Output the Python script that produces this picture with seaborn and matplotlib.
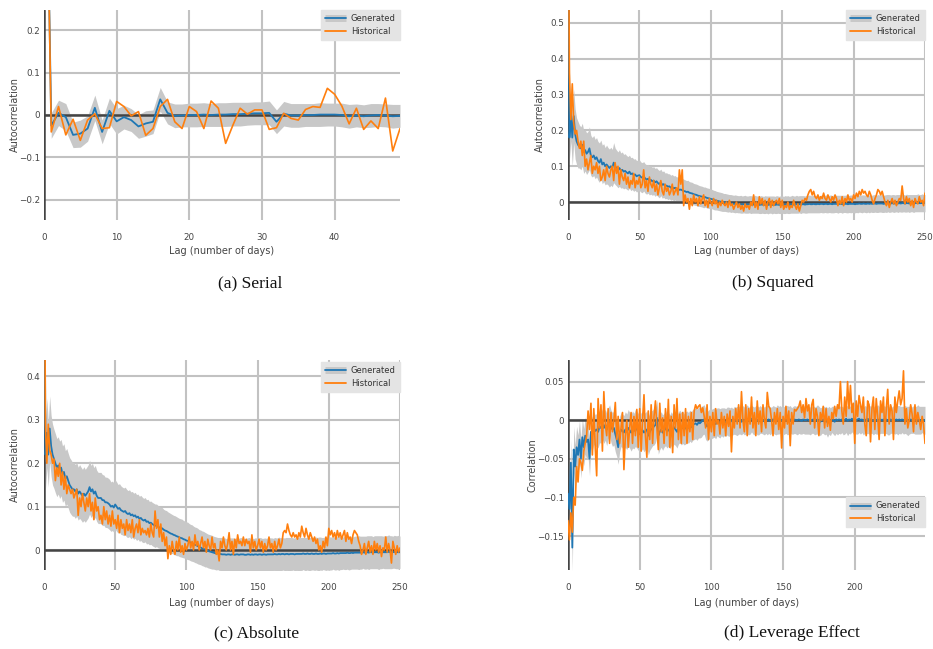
import numpy as np
import pandas as pd
import matplotlib
matplotlib.use("Agg")
import matplotlib.pyplot as plt
import seaborn as sns
from matplotlib.lines import Line2D

# ---------------- data ----------------
SERIAL_HIST = [1.0, -0.04, 0.02, -0.047, -0.01, -0.06, -0.012, 0.003, -0.032, -0.03,
               0.032, 0.02, -0.002, 0.008, -0.048, -0.032, 0.02, 0.037, -0.016, -0.032,
               0.02, 0.008, -0.032, 0.033, 0.016, -0.067, -0.024, 0.016, 0.002, 0.012,
               0.012, -0.034, -0.03, 0.004, -0.008, -0.012, 0.013, 0.02, 0.018, 0.063,
               0.049, 0.021, -0.021, 0.016, -0.034, -0.014, -0.032, 0.04, -0.085, -0.032]
SERIAL_GEN = [1.0, -0.025, 0.005, -0.005, -0.047, -0.044, -0.032, 0.017, -0.04, 0.01,
              -0.015, -0.005, -0.012, -0.027, -0.02, -0.016, 0.037, 0.005, -0.002, -0.001,
              0.0, 0.0, 0.001, 0.0, 0.001, 0.001, 0.002, 0.002, 0.003, 0.004,
              0.004, 0.005, -0.016, 0.003, -0.001, -0.001, 0.0, 0.0, 0.001, 0.001,
              0.001, 0.0, -0.003, -0.001, -0.003, -0.001, 0.0, -0.001, -0.003, -0.002]
SERIAL_BAND = [0.0, 0.03, 0.03, 0.032, 0.03, 0.032, 0.03, 0.03, 0.028, 0.03,
               0.03, 0.028, 0.027, 0.028, 0.03, 0.028, 0.028, 0.026, 0.028, 0.027,
               0.028, 0.028, 0.028, 0.027, 0.028, 0.028, 0.028, 0.028, 0.027, 0.027,
               0.027, 0.028, 0.028, 0.029, 0.028, 0.028, 0.027, 0.027, 0.028, 0.027,
               0.027, 0.028, 0.028, 0.027, 0.027, 0.028, 0.027, 0.027, 0.028, 0.027]

SQ_HIST = [1.0, 0.36, 0.23, 0.33, 0.22, 0.19, 0.20, 0.17, 0.15, 0.17,
           0.13, 0.17, 0.10, 0.12, 0.09, 0.11, 0.13, 0.08, 0.10, 0.09,
           0.11, 0.08, 0.10, 0.06, 0.07, 0.09, 0.06, 0.10, 0.08, 0.07,
           0.09, 0.10, 0.06, 0.11, 0.08, 0.10, 0.05, 0.09, 0.07, 0.06,
           0.08, 0.05, 0.07, 0.04, 0.06, 0.05, 0.08, 0.04, 0.06, 0.05,
           0.07, 0.04, 0.05, 0.09, 0.04, 0.06, 0.03, 0.07, 0.05, 0.04,
           0.06, 0.03, 0.05, 0.02, 0.04, 0.06, 0.03, 0.02, 0.05, 0.03,
           0.04, 0.02, 0.03, 0.05, 0.02, 0.03, 0.04, 0.02, 0.09, 0.05,
           0.09, -0.01, 0.02, 0.00, 0.01, -0.02, 0.01, -0.01, 0.02, 0.00,
           0.01, -0.01, 0.015, -0.005, 0.01, 0.02, -0.01, 0.005, -0.015, 0.01,
           0.0, -0.01, 0.01, -0.005, 0.005, -0.015, 0.0, -0.01, 0.005, -0.005,
           -0.01, 0.0, -0.015, 0.005, -0.01, -0.005, -0.02, -0.01, 0.0, -0.015,
           -0.005, -0.02, -0.01, -0.025, -0.005, -0.015, -0.01, -0.02, 0.0, -0.01,
           0.02, -0.015, 0.0, -0.02, 0.015, -0.005, 0.01, -0.01, 0.005, -0.02,
           0.0, 0.01, -0.015, 0.005, -0.01, 0.0, 0.005, -0.005, 0.01, -0.015,
           0.005, -0.02, -0.01, -0.015, 0.0, -0.02, -0.01, -0.015, 0.005, -0.01,
           -0.02, -0.005, -0.025, -0.01, 0.005, 0.0, 0.01, 0.005, 0.02, 0.03,
           0.035, 0.02, 0.03, 0.015, 0.01, 0.02, 0.005, 0.015, 0.01, 0.025,
           0.01, 0.005, 0.02, 0.01, 0.0, 0.015, 0.005, 0.02, 0.01, -0.01,
           0.005, -0.005, 0.015, -0.01, 0.01, 0.0, 0.02, 0.005, 0.01, 0.0,
           0.02, 0.01, 0.025, 0.015, 0.03, 0.02, 0.035, 0.025, 0.03, 0.02,
           0.015, 0.03, 0.02, 0.005, -0.005, 0.01, 0.02, 0.035, 0.03, 0.02,
           0.03, 0.015, 0.0, -0.01, 0.005, -0.015, 0.0, 0.01, -0.005, 0.005,
           -0.01, 0.0, 0.01, 0.005, 0.045, 0.01, -0.005, 0.015, 0.0, 0.01,
           -0.01, 0.005, -0.015, 0.01, 0.0, -0.005, 0.015, 0.0, 0.005, -0.01,
           0.025]
SQ_GEN = [1.0, 0.18, 0.25, 0.18, 0.24, 0.19, 0.17, 0.16, 0.155, 0.15,
          0.16, 0.14, 0.145, 0.135, 0.14, 0.15, 0.13, 0.125, 0.13, 0.12,
          0.125, 0.115, 0.11, 0.12, 0.105, 0.11, 0.1, 0.105, 0.1, 0.095,
          0.1, 0.095, 0.11, 0.1, 0.095, 0.09, 0.095, 0.088, 0.09, 0.085,
          0.087, 0.083, 0.08, 0.085, 0.078, 0.08, 0.075, 0.077, 0.072, 0.074,
          0.075, 0.07, 0.068, 0.072, 0.066, 0.063, 0.065, 0.06, 0.062, 0.058,
          0.06, 0.055, 0.058, 0.053, 0.05, 0.055, 0.048, 0.05, 0.045, 0.046,
          0.043, 0.044, 0.04, 0.042, 0.038, 0.04, 0.036, 0.037, 0.034, 0.035,
          0.033, 0.031, 0.03, 0.028, 0.029, 0.026, 0.025, 0.024, 0.022, 0.021,
          0.02, 0.018, 0.017, 0.016, 0.015, 0.013, 0.014, 0.012, 0.011, 0.01,
          0.009, 0.008, 0.006, 0.005, 0.004, 0.003, 0.002, 0.001, 0.0, -0.001,
          -0.001, -0.002, -0.003, -0.003, -0.004, -0.004, -0.005, -0.005, -0.005, -0.006,
          -0.006, -0.006, -0.007, -0.006, -0.006, -0.007, -0.007, -0.006, -0.007, -0.007,
          -0.007, -0.006, -0.007, -0.007, -0.008, -0.007, -0.007, -0.008, -0.007, -0.007,
          -0.008, -0.007, -0.007, -0.008, -0.007, -0.008, -0.007, -0.007, -0.008, -0.007,
          -0.007, -0.008, -0.007, -0.007, -0.007, -0.008, -0.007, -0.006, -0.007, -0.007,
          -0.006, -0.007, -0.006, -0.007, -0.006, -0.006, -0.007, -0.006, -0.006, -0.005,
          -0.006, -0.006, -0.005, -0.006, -0.006, -0.005, -0.006, -0.005, -0.005, -0.006,
          -0.005, -0.005, -0.006, -0.005, -0.005, -0.006, -0.005, -0.005, -0.005, -0.006,
          -0.005, -0.005, -0.006, -0.005, -0.005, -0.005, -0.006, -0.005, -0.005, -0.005,
          -0.005, -0.006, -0.005, -0.005, -0.004, -0.005, -0.005, -0.004, -0.005, -0.005,
          -0.004, -0.005, -0.004, -0.005, -0.004, -0.004, -0.005, -0.004, -0.004, -0.004,
          -0.004, -0.005, -0.004, -0.004, -0.003, -0.004, -0.004, -0.003, -0.004, -0.004,
          -0.003, -0.004, -0.003, -0.004, -0.003, -0.003, -0.004, -0.003, -0.003, -0.004,
          -0.003, -0.003, -0.004, -0.003, -0.003, -0.002, -0.003, -0.003, -0.002, -0.003,
          -0.003]
SQ_BAND = [0.0, 0.06, 0.08, 0.08, 0.075, 0.07, 0.065, 0.065, 0.06, 0.06,
           0.06, 0.06, 0.058, 0.058, 0.057, 0.06, 0.056, 0.055, 0.056, 0.055,
           0.055, 0.054, 0.055, 0.053, 0.054, 0.053, 0.052, 0.054, 0.052, 0.053,
           0.053, 0.052, 0.056, 0.051, 0.05, 0.05, 0.051, 0.049, 0.05, 0.048,
           0.048, 0.047, 0.047, 0.046, 0.046, 0.045, 0.045, 0.044, 0.044, 0.043,
           0.043, 0.042, 0.042, 0.041, 0.041, 0.041, 0.04, 0.04, 0.04, 0.039,
           0.039, 0.039, 0.038, 0.038, 0.038, 0.037, 0.037, 0.037, 0.036, 0.036,
           0.036, 0.035, 0.035, 0.035, 0.035, 0.034, 0.034, 0.034, 0.034, 0.033,
           0.033, 0.033, 0.032, 0.032, 0.032, 0.031, 0.031, 0.031, 0.03, 0.03,
           0.03, 0.03, 0.029, 0.029, 0.029, 0.029, 0.028, 0.028, 0.028, 0.028,
           0.027, 0.027, 0.027, 0.027, 0.026, 0.026, 0.026, 0.026, 0.026, 0.025,
           0.025, 0.025, 0.025, 0.024, 0.025, 0.024, 0.024, 0.025, 0.024, 0.024,
           0.024, 0.025, 0.024, 0.024, 0.025, 0.024, 0.024, 0.024, 0.025, 0.024,
           0.024, 0.025, 0.024, 0.024, 0.024, 0.025, 0.024, 0.024, 0.025, 0.024,
           0.025, 0.024, 0.024, 0.025, 0.024, 0.024, 0.025, 0.024, 0.024, 0.025,
           0.024, 0.024, 0.025, 0.024, 0.025, 0.024, 0.024, 0.025, 0.024, 0.024,
           0.025, 0.024, 0.024, 0.025, 0.024, 0.024, 0.024, 0.025, 0.024, 0.025,
           0.024, 0.024, 0.025, 0.024, 0.024, 0.025, 0.024, 0.024, 0.025, 0.024,
           0.024, 0.025, 0.024, 0.024, 0.025, 0.024, 0.025, 0.024, 0.024, 0.025,
           0.024, 0.024, 0.025, 0.024, 0.024, 0.025, 0.024, 0.024, 0.025, 0.024,
           0.025, 0.024, 0.024, 0.025, 0.024, 0.024, 0.025, 0.024, 0.024, 0.025,
           0.024, 0.025, 0.024, 0.024, 0.025, 0.024, 0.024, 0.025, 0.024, 0.024,
           0.025, 0.024, 0.024, 0.025, 0.024, 0.025, 0.024, 0.024, 0.025, 0.024,
           0.024, 0.025, 0.024, 0.024, 0.025, 0.024, 0.024, 0.025, 0.024, 0.025,
           0.024, 0.024, 0.025, 0.024, 0.024, 0.025, 0.024, 0.024, 0.025, 0.024,
           0.024]

ABS_HIST = [1.0, 0.29, 0.20, 0.29, 0.23, 0.22, 0.20, 0.21, 0.16, 0.19,
            0.17, 0.20, 0.15, 0.18, 0.14, 0.17, 0.13, 0.15, 0.14, 0.13,
            0.14, 0.12, 0.13, 0.14, 0.08, 0.12, 0.10, 0.13, 0.11, 0.09,
            0.12, 0.10, 0.13, 0.09, 0.11, 0.07, 0.12, 0.09, 0.10, 0.07,
            0.08, 0.06, 0.10, 0.07, 0.09, 0.06, 0.08, 0.055, 0.09, 0.06,
            0.07, 0.05, 0.08, 0.04, 0.07, 0.05, 0.06, 0.035, 0.07, 0.045,
            0.06, 0.04, 0.07, 0.03, 0.05, 0.06, 0.04, 0.07, 0.035, 0.05,
            0.04, 0.045, 0.035, 0.05, 0.03, 0.06, 0.04, 0.03, 0.09, 0.05,
            0.07, 0.03, 0.06, 0.02, 0.04, 0.01, 0.03, -0.02, 0.01, -0.01,
            0.02, 0.0, -0.01, 0.02, 0.0, 0.03, -0.005, 0.01, -0.01, 0.015,
            0.0, 0.01, 0.03, 0.005, 0.02, 0.0, 0.035, 0.01, 0.02, 0.0,
            0.015, 0.03, 0.005, 0.02, -0.005, 0.025, 0.01, 0.0, 0.03, 0.005,
            0.015, -0.01, 0.0, -0.025, 0.02, 0.005, 0.03, 0.01, 0.0, 0.015,
            0.04, 0.0, 0.02, -0.01, 0.025, 0.005, 0.035, 0.015, 0.02, 0.01,
            0.03, 0.01, 0.025, 0.015, 0.02, -0.005, 0.035, 0.005, 0.02, 0.0,
            0.01, 0.025, 0.005, 0.02, -0.005, 0.015, 0.0, 0.01, 0.03, 0.005,
            0.015, -0.005, 0.02, 0.0, 0.01, 0.025, 0.005, 0.015, 0.04, 0.045,
            0.04, 0.06, 0.045, 0.035, 0.03, 0.04, 0.03, 0.035, 0.025, 0.04,
            0.03, 0.055, 0.04, 0.03, 0.05, 0.035, 0.025, 0.04, 0.03, 0.02,
            0.03, 0.015, 0.025, 0.0, 0.01, -0.005, 0.02, 0.005, 0.03, 0.01,
            0.05, 0.035, 0.045, 0.03, 0.04, 0.025, 0.045, 0.03, 0.04, 0.025,
            0.035, 0.045, 0.02, 0.04, 0.025, 0.03, 0.015, 0.035, 0.045, 0.04,
            0.035, 0.02, 0.01, -0.01, 0.0, 0.015, -0.01, 0.005, 0.02, -0.005,
            0.01, -0.01, 0.02, 0.0, 0.015, -0.005, 0.01, -0.015, 0.005, 0.0,
            0.03, -0.005, 0.015, 0.0, -0.03, 0.02, 0.005, -0.01, 0.01, -0.005,
            0.005]
ABS_GEN = [1.0, 0.22, 0.27, 0.22, 0.28, 0.24, 0.22, 0.21, 0.2, 0.19,
           0.195, 0.185, 0.19, 0.175, 0.18, 0.165, 0.17, 0.16, 0.15, 0.145,
           0.14, 0.14, 0.135, 0.14, 0.13, 0.135, 0.13, 0.125, 0.13, 0.125,
           0.13, 0.135, 0.145, 0.135, 0.14, 0.13, 0.135, 0.125, 0.12, 0.12,
           0.12, 0.115, 0.115, 0.11, 0.11, 0.108, 0.105, 0.1, 0.102, 0.098,
           0.105, 0.1, 0.095, 0.097, 0.092, 0.09, 0.088, 0.09, 0.085, 0.083,
           0.085, 0.08, 0.082, 0.078, 0.08, 0.075, 0.077, 0.072, 0.074, 0.07,
           0.068, 0.07, 0.065, 0.066, 0.062, 0.063, 0.06, 0.058, 0.056, 0.057,
           0.054, 0.052, 0.05, 0.05, 0.047, 0.045, 0.044, 0.042, 0.04, 0.038,
           0.037, 0.035, 0.034, 0.032, 0.031, 0.029, 0.028, 0.027, 0.025, 0.024,
           0.022, 0.021, 0.019, 0.017, 0.016, 0.014, 0.012, 0.011, 0.009, 0.007,
           0.006, 0.004, 0.003, 0.001, 0.0, -0.002, -0.003, -0.004, -0.005, -0.006,
           -0.007, -0.008, -0.008, -0.009, -0.009, -0.01, -0.01, -0.01, -0.011, -0.01,
           -0.01, -0.011, -0.01, -0.01, -0.011, -0.01, -0.01, -0.011, -0.01, -0.01,
           -0.01, -0.011, -0.011, -0.01, -0.01, -0.011, -0.01, -0.011, -0.01, -0.01,
           -0.011, -0.01, -0.01, -0.011, -0.01, -0.01, -0.011, -0.01, -0.01, -0.01,
           -0.01, -0.01, -0.009, -0.01, -0.01, -0.009, -0.01, -0.009, -0.009, -0.01,
           -0.009, -0.009, -0.01, -0.009, -0.009, -0.009, -0.01, -0.009, -0.009, -0.009,
           -0.009, -0.009, -0.008, -0.009, -0.009, -0.008, -0.009, -0.009, -0.008, -0.009,
           -0.009, -0.008, -0.009, -0.009, -0.008, -0.009, -0.008, -0.008, -0.009, -0.008,
           -0.008, -0.008, -0.008, -0.007, -0.008, -0.008, -0.007, -0.008, -0.007, -0.007,
           -0.007, -0.007, -0.007, -0.006, -0.007, -0.007, -0.006, -0.007, -0.006, -0.006,
           -0.006, -0.006, -0.006, -0.006, -0.005, -0.006, -0.006, -0.005, -0.006, -0.005,
           -0.005, -0.006, -0.005, -0.005, -0.005, -0.006, -0.005, -0.005, -0.005, -0.005,
           -0.005, -0.005, -0.004, -0.005, -0.005, -0.005, -0.004, -0.005, -0.005, -0.005,
           -0.005]
ABS_BAND = [0.0, 0.08, 0.08, 0.075, 0.075, 0.07, 0.07, 0.068, 0.068, 0.067,
            0.066, 0.066, 0.065, 0.065, 0.065, 0.064, 0.064, 0.063, 0.063, 0.063,
            0.062, 0.062, 0.062, 0.062, 0.061, 0.062, 0.061, 0.061, 0.062, 0.061,
            0.061, 0.061, 0.062, 0.06, 0.06, 0.06, 0.06, 0.059, 0.059, 0.059,
            0.059, 0.059, 0.058, 0.058, 0.058, 0.058, 0.058, 0.057, 0.057, 0.057,
            0.057, 0.057, 0.056, 0.056, 0.056, 0.055, 0.055, 0.055, 0.055, 0.054,
            0.054, 0.054, 0.053, 0.053, 0.053, 0.053, 0.052, 0.052, 0.052, 0.052,
            0.051, 0.051, 0.051, 0.051, 0.05, 0.05, 0.05, 0.05, 0.05, 0.049,
            0.049, 0.048, 0.048, 0.048, 0.047, 0.047, 0.047, 0.046, 0.046, 0.046,
            0.045, 0.045, 0.045, 0.045, 0.044, 0.044, 0.044, 0.044, 0.043, 0.043,
            0.043, 0.043, 0.042, 0.042, 0.042, 0.041, 0.041, 0.041, 0.041, 0.04,
            0.04, 0.04, 0.04, 0.04, 0.039, 0.039, 0.039, 0.039, 0.039, 0.038,
            0.038, 0.038, 0.037, 0.038, 0.038, 0.039, 0.038, 0.038, 0.037, 0.038,
            0.038, 0.039, 0.038, 0.038, 0.037, 0.038, 0.038, 0.038, 0.039, 0.038,
            0.038, 0.037, 0.038, 0.038, 0.039, 0.038, 0.038, 0.037, 0.038, 0.038,
            0.038, 0.038, 0.039, 0.038, 0.037, 0.038, 0.038, 0.038, 0.039, 0.038,
            0.038, 0.037, 0.038, 0.038, 0.038, 0.039, 0.038, 0.038, 0.037, 0.038,
            0.038, 0.038, 0.039, 0.038, 0.038, 0.037, 0.038, 0.038, 0.038, 0.039,
            0.038, 0.038, 0.037, 0.038, 0.038, 0.038, 0.039, 0.038, 0.038, 0.037,
            0.038, 0.038, 0.038, 0.039, 0.038, 0.038, 0.037, 0.038, 0.038, 0.038,
            0.039, 0.038, 0.038, 0.037, 0.038, 0.038, 0.038, 0.039, 0.038, 0.038,
            0.037, 0.038, 0.038, 0.038, 0.039, 0.038, 0.038, 0.037, 0.038, 0.038,
            0.038, 0.039, 0.038, 0.038, 0.037, 0.038, 0.038, 0.038, 0.039, 0.038,
            0.038, 0.037, 0.038, 0.038, 0.038, 0.039, 0.038, 0.038, 0.037, 0.038,
            0.038, 0.038, 0.039, 0.038, 0.038, 0.037, 0.038, 0.038, 0.038, 0.039,
            0.037]

LEV_HIST = [-0.13, -0.155, -0.12, -0.145, -0.10, -0.11, -0.06, -0.08, -0.05, -0.055,
            -0.065, -0.04, -0.03, -0.02, 0.012, -0.012, 0.022, -0.045, 0.015, -0.035,
            -0.072, 0.028, -0.01, 0.02, -0.04, 0.037, -0.005, -0.02, 0.015, -0.03,
            0.01, -0.015, 0.0, 0.023, -0.025, 0.005, -0.03, -0.01, 0.01, -0.064,
            -0.02, 0.0, -0.035, -0.01, 0.01, -0.03, 0.005, -0.02, 0.014, -0.035,
            0.015, -0.04, 0.0, 0.033, -0.02, -0.048, 0.012, -0.025, 0.02, -0.03,
            0.005, 0.025, -0.01, -0.038, 0.022, -0.015, 0.003, -0.03, 0.015, -0.02,
            0.027, -0.035, 0.005, -0.042, 0.02, -0.01, 0.028, -0.025, 0.008, -0.03,
            0.01, -0.02, 0.015, -0.03, 0.005, -0.015, 0.01, -0.025, 0.012, 0.02,
            0.015, 0.018, 0.02, 0.01, 0.016, 0.005, -0.01, 0.02, -0.025, 0.005,
            -0.015, 0.01, -0.02, 0.015, -0.005, 0.0, -0.018, 0.01, -0.01, 0.005,
            -0.02, 0.008, -0.008, 0.012, -0.041, 0.005, -0.01, 0.015, -0.005, 0.02,
            -0.01, 0.037, 0.0, -0.015, 0.02, -0.02, 0.015, -0.005, 0.03, -0.01,
            0.01, -0.02, 0.025, -0.005, 0.012, -0.015, 0.02, 0.0, -0.01, 0.036,
            0.018, 0.015, 0.0, -0.02, 0.01, -0.005, 0.015, -0.012, 0.01, -0.036,
            0.005, -0.01, 0.018, -0.005, 0.012, -0.033, 0.01, -0.005, 0.014, 0.012,
            0.015, 0.018, 0.025, 0.01, 0.02, 0.003, 0.028, 0.012, 0.02, -0.005,
            0.02, 0.027, -0.01, 0.015, 0.005, -0.02, 0.01, 0.0, 0.018, -0.01,
            0.015, -0.008, 0.005, -0.013, 0.01, 0.002, 0.018, 0.005, 0.02, 0.015,
            0.05, 0.012, -0.005, 0.03, 0.005, 0.05, 0.015, 0.045, 0.01, 0.022,
            -0.03, 0.025, 0.005, 0.032, 0.02, 0.01, 0.03, -0.005, -0.02, 0.025,
            0.02, -0.028, 0.015, 0.03, -0.012, 0.028, 0.005, -0.025, 0.025, 0.01,
            0.03, -0.02, 0.015, 0.04, -0.005, 0.02, 0.012, -0.025, 0.03, 0.01,
            0.025, 0.038, 0.02, 0.028, 0.064, -0.005, 0.015, -0.01, 0.0, 0.02,
            0.008, -0.015, 0.02, -0.005, 0.01, 0.0, -0.012, 0.005, -0.005, -0.03]
LEV_GEN = [-0.095, -0.115, -0.055, -0.165, -0.038, -0.06, -0.035, -0.045, -0.025, -0.05,
           -0.022, -0.035, -0.02, -0.028, -0.025, -0.05, -0.015, -0.018, -0.01, -0.014,
           -0.012, -0.015, -0.008, -0.01, -0.005, -0.01, -0.006, -0.012, -0.004, 0.0,
           -0.008, -0.012, -0.01, -0.018, -0.025, -0.035, -0.018, -0.012, -0.014, -0.016,
           -0.012, -0.015, -0.01, -0.013, -0.016, -0.012, -0.014, -0.01, -0.012, -0.015,
           -0.018, -0.015, -0.013, -0.016, -0.014, -0.012, -0.02, -0.015, -0.012, -0.01,
           -0.008, -0.006, 0.003, -0.02, -0.015, -0.012, -0.016, -0.013, -0.01, -0.014,
           -0.012, -0.015, -0.011, -0.013, -0.009, -0.012, -0.015, -0.01, -0.008, -0.011,
           -0.009, -0.012, -0.01, -0.008, -0.01, -0.007, -0.009, -0.006, -0.005, -0.004,
           -0.006, -0.003, -0.004, -0.002, 0.0, 0.001, -0.005, -0.008, -0.006, -0.004,
           -0.005, -0.004, -0.003, -0.005, -0.002, -0.003, -0.004, -0.002, -0.003, -0.002,
           -0.003, -0.001, -0.002, -0.002, -0.001, -0.002, 0.0, -0.001, -0.001, 0.0,
           0.0, -0.002, 0.001, -0.001, 0.0, 0.001, -0.001, 0.0, 0.002, 0.0,
           -0.001, 0.001, 0.0, -0.001, 0.001, 0.0, 0.0, -0.001, 0.001, 0.0,
           0.001, -0.001, 0.0, 0.001, 0.0, -0.001, 0.001, 0.0, 0.001, 0.0,
           -0.001, 0.0, 0.001, 0.0, 0.0, 0.001, -0.001, 0.0, 0.001, 0.0,
           0.0, 0.001, 0.0, -0.001, 0.001, 0.0, 0.0, 0.001, 0.0, -0.001,
           0.0, 0.001, -0.001, 0.0, 0.001, 0.0, -0.002, 0.0, 0.001, -0.001,
           0.0, -0.003, 0.0, -0.002, 0.001, 0.0, -0.002, 0.001, 0.0, 0.001,
           0.0, 0.001, -0.001, 0.0, 0.002, -0.001, 0.001, 0.0, 0.002, 0.0,
           0.001, 0.0, 0.001, 0.002, 0.0, 0.001, -0.001, 0.001, 0.0, 0.002,
           0.0, 0.001, 0.0, -0.001, 0.001, 0.0, 0.001, 0.0, 0.001, 0.0,
           0.001, 0.0, 0.001, 0.0, -0.001, 0.001, 0.0, 0.001, 0.0, 0.001,
           0.0, 0.001, 0.0, 0.001, 0.0, 0.001, 0.0, -0.001, 0.0, 0.001,
           0.0, 0.001, 0.0, 0.0, 0.001, 0.0, 0.0, 0.001, 0.0, 0.0]
LEV_BAND = [0.02, 0.025, 0.03, 0.03, 0.03, 0.028, 0.027, 0.026, 0.025, 0.025,
            0.024, 0.024, 0.024, 0.023, 0.022, 0.022, 0.022, 0.021, 0.021, 0.021,
            0.021, 0.021, 0.021, 0.02, 0.02, 0.02, 0.02, 0.021, 0.02, 0.02,
            0.021, 0.022, 0.022, 0.023, 0.022, 0.022, 0.023, 0.022, 0.022, 0.022,
            0.023, 0.023, 0.024, 0.023, 0.024, 0.024, 0.023, 0.024, 0.024, 0.024,
            0.024, 0.025, 0.024, 0.025, 0.024, 0.024, 0.025, 0.024, 0.024, 0.023,
            0.024, 0.023, 0.023, 0.024, 0.023, 0.023, 0.023, 0.022, 0.023, 0.022,
            0.022, 0.022, 0.022, 0.021, 0.022, 0.021, 0.021, 0.021, 0.021, 0.021,
            0.021, 0.02, 0.021, 0.02, 0.02, 0.02, 0.02, 0.02, 0.02, 0.02,
            0.02, 0.02, 0.019, 0.02, 0.019, 0.019, 0.02, 0.019, 0.019, 0.019,
            0.019, 0.019, 0.019, 0.019, 0.018, 0.019, 0.019, 0.018, 0.019, 0.018,
            0.018, 0.018, 0.019, 0.018, 0.018, 0.017, 0.018, 0.018, 0.019, 0.018,
            0.018, 0.017, 0.018, 0.018, 0.018, 0.019, 0.018, 0.018, 0.017, 0.018,
            0.018, 0.018, 0.019, 0.018, 0.018, 0.017, 0.018, 0.018, 0.018, 0.019,
            0.018, 0.018, 0.017, 0.018, 0.018, 0.018, 0.019, 0.018, 0.018, 0.017,
            0.018, 0.018, 0.018, 0.019, 0.018, 0.018, 0.017, 0.018, 0.018, 0.018,
            0.019, 0.018, 0.018, 0.017, 0.018, 0.018, 0.018, 0.019, 0.018, 0.018,
            0.017, 0.018, 0.018, 0.018, 0.019, 0.018, 0.018, 0.017, 0.018, 0.018,
            0.018, 0.019, 0.018, 0.018, 0.017, 0.018, 0.018, 0.018, 0.019, 0.018,
            0.018, 0.017, 0.018, 0.018, 0.018, 0.019, 0.018, 0.018, 0.017, 0.018,
            0.018, 0.018, 0.019, 0.018, 0.018, 0.017, 0.018, 0.018, 0.018, 0.019,
            0.018, 0.018, 0.017, 0.018, 0.018, 0.018, 0.019, 0.018, 0.018, 0.017,
            0.018, 0.018, 0.018, 0.019, 0.018, 0.018, 0.017, 0.018, 0.018, 0.018,
            0.019, 0.018, 0.018, 0.017, 0.018, 0.018, 0.018, 0.019, 0.018, 0.018,
            0.017, 0.018, 0.018, 0.018, 0.019, 0.018, 0.018, 0.017, 0.018, 0.018]

CAPTIONS = ["(a) Serial", "(b) Squared", "(c) Absolute", "(d) Leverage Effect"]
YLABELS = ["Autocorrelation", "Autocorrelation", "Autocorrelation", "Correlation"]
XLABEL = "Lag (number of days)"
LEGEND_LABELS = ["Generated", "Historical"]
XTICKS = [[0, 10, 20, 30, 40], [0, 50, 100, 150, 200, 250],
          [0, 50, 100, 150, 200, 250], [0, 50, 100, 150, 200]]
YTICKS = [[-0.2, -0.1, 0, 0.1, 0.2], [0, 0.1, 0.2, 0.3, 0.4, 0.5],
          [0, 0.1, 0.2, 0.3, 0.4], [-0.15, -0.1, -0.05, 0, 0.05]]

# ---------------- style ----------------
sns.set_style("white")
plt.rcParams["font.family"] = ["DejaVu Sans"]

BLUE = "#1f77b4"
ORANGE = "#ff7f0e"
BAND = "#c8c8c8"
GRID = "#c2c2c2"
ZERO = "#444444"
TXT = "#444444"

W, H = 933, 649
fig = plt.figure(figsize=(W / 100, H / 100), dpi=100)
fig.patch.set_facecolor("white")


def px_axes(x0, y0, x1, y1):
    return fig.add_axes([x0 / W, 1 - y1 / H, (x1 - x0) / W, (y1 - y0) / H])


def fmt(v):
    s = f"{v:.2f}".rstrip("0").rstrip(".")
    if s in ("-0", ""):
        s = "0"
    return s.replace("-", "\u2212")


panels = [
    dict(box=(44, 10, 400, 220), hist=SERIAL_HIST, gen=SERIAL_GEN, band=SERIAL_BAND,
         xlim=(0, 49), ylim=(-0.248, 0.248), leg=(1.0, 1.0, "upper right"),
         ylab_x=15, xlab_y=251, cap=(250, 283)),
    dict(box=(568, 10, 925, 220), hist=SQ_HIST, gen=SQ_GEN, band=SQ_BAND,
         xlim=(0, 250), ylim=(-0.05, 0.536), leg=(1.0, 1.0, "upper right"),
         ylab_x=540, xlab_y=251, cap=(773, 283)),
    dict(box=(44, 360, 400, 570), hist=ABS_HIST, gen=ABS_GEN, band=ABS_BAND,
         xlim=(0, 250), ylim=(-0.046, 0.438), leg=(1.0, 0.99, "upper right"),
         ylab_x=15, xlab_y=603, cap=(257, 633)),
    dict(box=(568, 360, 925, 570), hist=LEV_HIST, gen=LEV_GEN, band=LEV_BAND,
         xlim=(0, 249), ylim=(-0.194, 0.078), leg=(1.0, 0.205, "lower right"),
         ylab_x=533, xlab_y=603, cap=(792, 633)),
]

for i, p in enumerate(panels):
    x0, y0, x1, y1 = p["box"]
    ax = px_axes(x0, y0, x1, y1)
    ax.set_facecolor("white")

    gen = np.array(p["gen"], dtype=float)
    hist = np.array(p["hist"], dtype=float)
    band = np.array(p["band"], dtype=float)
    n = min(len(gen), len(band))
    lag_g = np.arange(len(gen))
    lag_h = np.arange(len(hist))

    ax.fill_between(np.arange(n), gen[:n] - band[:n], gen[:n] + band[:n],
                    color=BAND, linewidth=0, zorder=2)
    ax.axhline(0, color=ZERO, lw=1.8, zorder=2.5)
    ax.axvline(0, color=ZERO, lw=1.8, zorder=2.5)

    df_g = pd.DataFrame({"lag": lag_g, "value": gen})
    df_h = pd.DataFrame({"lag": lag_h, "value": hist})
    sns.lineplot(data=df_g, x="lag", y="value", ax=ax, color=BLUE, lw=1.3,
                 zorder=3, legend=False)
    sns.lineplot(data=df_h, x="lag", y="value", ax=ax, color=ORANGE, lw=1.2,
                 zorder=4, legend=False)

    ax.set_xlim(*p["xlim"])
    ax.set_ylim(*p["ylim"])
    ax.set_xticks(XTICKS[i])
    ax.set_yticks(YTICKS[i])
    ax.set_xticklabels([fmt(t) for t in XTICKS[i]])
    ax.set_yticklabels([fmt(t) for t in YTICKS[i]])
    ax.tick_params(axis="both", length=0, labelsize=6.3, labelcolor=TXT)
    ax.tick_params(axis="x", pad=9)
    ax.tick_params(axis="y", pad=3)
    ax.grid(True, color=GRID, lw=1.5, zorder=1)
    ax.set_axisbelow(True)
    for s in ax.spines.values():
        s.set_visible(False)
    ax.set_xlabel("")
    ax.set_ylabel("")

    # legend
    h_gen = (Line2D([], [], color=BAND, lw=5, solid_capstyle="butt"),
             Line2D([], [], color=BLUE, lw=1.3))
    h_his = Line2D([], [], color=ORANGE, lw=1.3)
    bx, by, loc = p["leg"]
    leg = ax.legend([h_gen, h_his], LEGEND_LABELS, loc=loc,
                    bbox_to_anchor=(bx, by), fontsize=6.0, frameon=True,
                    fancybox=False, framealpha=1.0, borderaxespad=0.0,
                    handlelength=2.5, handletextpad=0.6, borderpad=0.5,
                    labelspacing=0.4)
    leg.get_frame().set_facecolor("#e4e4e4")
    leg.get_frame().set_edgecolor("#e4e4e4")
    leg.set_zorder(10)
    for t in leg.get_texts():
        t.set_color("#333333")

    # axis titles
    cx = (x0 + x1) / 2
    cy = (y0 + y1) / 2
    fig.text(cx / W, 1 - p["xlab_y"] / H, XLABEL, ha="center", va="center",
             fontsize=7, color=TXT)
    fig.text(p["ylab_x"] / W, 1 - cy / H, YLABELS[i], ha="center", va="center",
             rotation=90, fontsize=7, color=TXT)
    # caption
    capx, capy = p["cap"]
    fig.text(capx / W, 1 - capy / H, CAPTIONS[i], ha="center", va="center",
             fontsize=12.5, family=["Liberation Serif", "DejaVu Serif"],
             color="#111111")

fig.savefig("out.png", dpi=100, facecolor="white")
